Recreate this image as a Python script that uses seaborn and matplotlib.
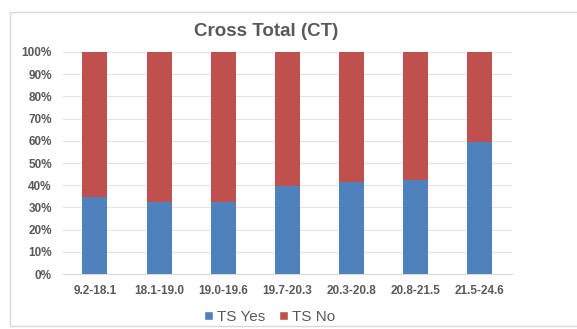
import numpy as np
import pandas as pd
import matplotlib
matplotlib.use("Agg")
import matplotlib.pyplot as plt
import seaborn as sns
from matplotlib.patches import Rectangle, Patch
from matplotlib.ticker import PercentFormatter

# data
bins = ['9.2-18.1', '18.1-19.0', '19.0-19.6', '19.7-20.3', '20.3-20.8', '20.8-21.5', '21.5-24.6']
ts_yes = [34.8, 32.6, 32.3, 39.8, 41.3, 42.3, 59.5]
ts_no = [65.2, 67.4, 67.7, 60.2, 58.7, 57.7, 40.5]

blue = '#4F81BD'
red = '#C0504D'
grey_txt = '#595959'

sns.set_theme(style='white')
plt.rcParams['font.family'] = ['Liberation Sans', 'DejaVu Sans']

df = pd.DataFrame({'bin': bins, 'yes': ts_yes, 'no': ts_no})
df['total'] = df['yes'] + df['no']

fig = plt.figure(figsize=(5.77, 3.29), dpi=100)
ax = fig.add_axes([0.109, 0.167, 0.778, 0.675])

# chart border
fig.patches.append(Rectangle((10 / 577, 3 / 329), 1.2, 314 / 329, transform=fig.transFigure,
                             fill=False, edgecolor='#D9D9D9', linewidth=1.0))

# stacked: total in red, yes on top in blue
sns.barplot(data=df, x='bin', y='total', color=red, saturation=1, width=0.39,
            linewidth=0, ax=ax, zorder=3)
sns.barplot(data=df, x='bin', y='yes', color=blue, saturation=1, width=0.39,
            linewidth=0, ax=ax, zorder=4)

ax.set_ylim(0, 100)
ax.set_xlim(-0.5, len(bins) - 0.5)
ax.set_yticks(np.arange(0, 101, 10))
ax.yaxis.set_major_formatter(PercentFormatter(decimals=0))
ax.grid(axis='y', color='#E3E3E3', linewidth=0.8, zorder=0)
ax.set_axisbelow(True)
for s in ['top', 'right', 'left']:
    ax.spines[s].set_visible(False)
ax.spines['bottom'].set_color('#D9D9D9')
ax.spines['bottom'].set_linewidth(0.8)
ax.set_xlabel('')
ax.set_ylabel('')
ax.tick_params(axis='both', length=0, labelsize=8.5, labelcolor=grey_txt)
ax.tick_params(axis='x', pad=8)
ax.tick_params(axis='y', pad=8)
for lab in ax.get_xticklabels() + ax.get_yticklabels():
    lab.set_fontweight('bold')

fig.text(266 / 577, 1 - 32 / 329, 'Cross Total (CT)', ha='center', va='center',
         fontsize=13.5, fontweight='bold', color=grey_txt)

handles = [Patch(facecolor=blue, label='TS Yes'), Patch(facecolor=red, label='TS No')]
fig.legend(handles=handles, loc='center', bbox_to_anchor=(270 / 577, 1 - 317 / 329), ncol=2,
           frameon=False, fontsize=11, handlelength=0.55, handleheight=0.55,
           handletextpad=0.3, columnspacing=0.9, labelcolor=grey_txt)

fig.savefig('out.png', dpi=100)
